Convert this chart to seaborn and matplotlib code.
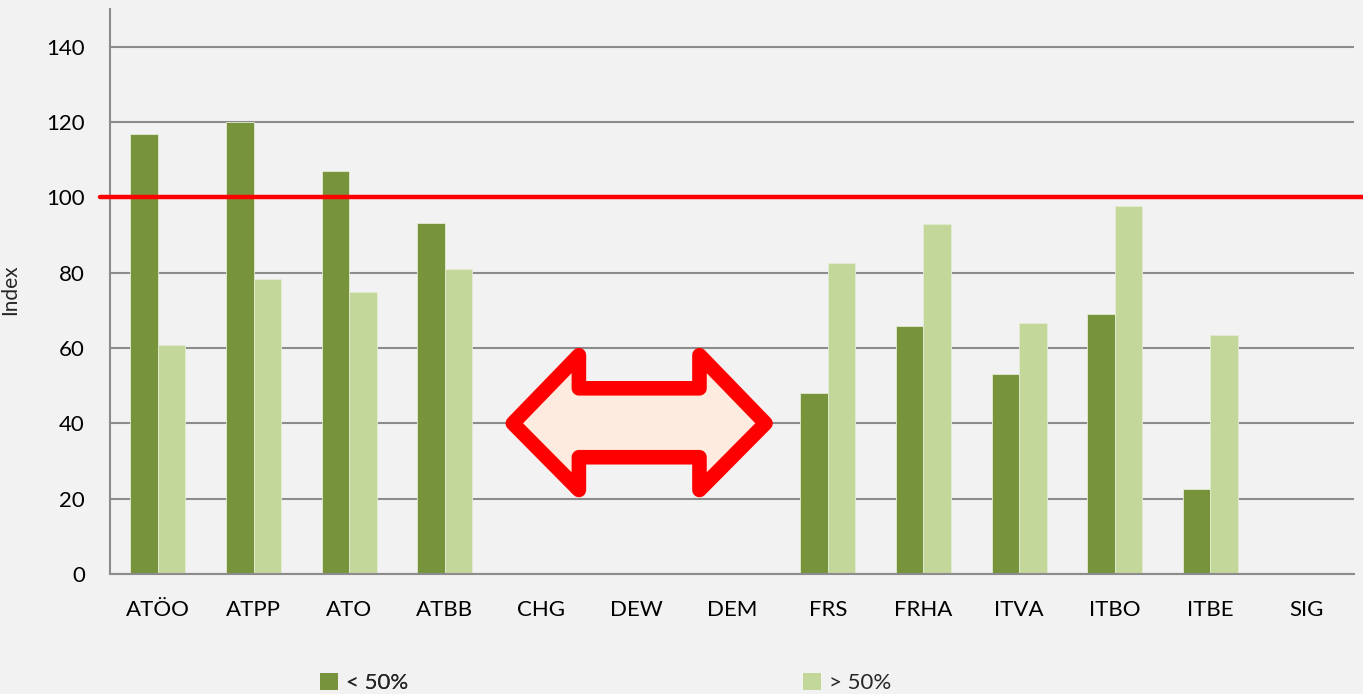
import numpy as np
import pandas as pd
import matplotlib
matplotlib.use("Agg")
import matplotlib.pyplot as plt
from matplotlib.patches import Polygon, Patch
import seaborn as sns

categories = ["ATÖO", "ATPP", "ATO", "ATBB", "CHG", "DEW", "DEM",
              "FRS", "FRHA", "ITVA", "ITBO", "ITBE", "SIG"]
below_50 = [116.9, 120.0, 107.1, 93.3, np.nan, np.nan, np.nan,
            48.0, 65.8, 53.0, 68.9, 22.5, np.nan]
above_50 = [60.7, 78.2, 74.8, 81.1, np.nan, np.nan, np.nan,
            82.5, 92.8, 66.6, 97.6, 63.4, np.nan]
series_names = ["< 50%", "> 50%"]
reference_value = 100
y_ticks = [0, 20, 40, 60, 80, 100, 120, 140]

# arrow annotation (category units, index units)
arrow_x = [3.71, 4.40, 4.40, 5.66, 5.66, 6.35, 5.66, 5.66, 4.40, 4.40]
arrow_y = [40, 58.1, 49.3, 49.3, 58.1, 40, 22.3, 31.0, 31.0, 22.3]

dark = "#77933C"
light = "#C4D79B"
bg = "#F2F2F2"
grid_c = "#8C8C8C"

df = pd.DataFrame({
    "cat": categories * 2,
    "series": [series_names[0]] * len(categories) + [series_names[1]] * len(categories),
    "value": below_50 + above_50,
}).dropna()

sns.set_theme(style="white")
plt.rcParams["font.family"] = ["Lato", "DejaVu Sans"]

fig = plt.figure(figsize=(13.63, 6.94), dpi=100, facecolor=bg)
ax = fig.add_axes([110 / 1363, 1 - 574 / 694, (1354 - 110) / 1363, (574 - 9) / 694])
ax.set_facecolor(bg)

sns.barplot(data=df, x="cat", y="value", hue="series", order=categories,
            hue_order=series_names, palette=[dark, light], width=0.575,
            gap=0, ax=ax, legend=False, edgecolor="#E3EBD3", linewidth=0.6,
            saturation=1)

ax.set_xlim(-0.5, len(categories) - 0.5)
ax.set_ylim(0, 150)
ax.set_yticks(y_ticks)
ax.yaxis.grid(True, color=grid_c, linewidth=1.5)
ax.set_axisbelow(True)
for s in ["top", "right"]:
    ax.spines[s].set_visible(False)
for s in ["left", "bottom"]:
    ax.spines[s].set_color(grid_c)
    ax.spines[s].set_linewidth(1.5)
ax.tick_params(axis="both", length=0, labelsize=16, colors="black")
ax.tick_params(axis="y", pad=18)
ax.tick_params(axis="x", pad=19)
ax.set_xlabel("")
ax.set_ylabel("Index", fontsize=15)
ax.yaxis.set_label_coords(-(110 - 20) / 1244, (574 - 290) / 565)

# reference line at 100
trans = matplotlib.transforms.blended_transform_factory(ax.transAxes, ax.transData)
ax.plot([-0.008, 1.01], [reference_value, reference_value], color="#FF0000",
        linewidth=3.2, transform=trans, clip_on=False, zorder=5)

# double arrow
poly = Polygon(list(zip(arrow_x, arrow_y)), closed=True, facecolor="#FCEBDE",
               edgecolor="#FF0000", linewidth=10.5, joinstyle="round", zorder=6)
ax.add_patch(poly)

# legends
h1 = [Patch(facecolor=dark, edgecolor="none", label=series_names[0])]
h2 = [Patch(facecolor=light, edgecolor="none", label=series_names[1])]
lg1 = fig.legend(handles=h1, loc="center left", bbox_to_anchor=(300 / 1363, 1 - 683 / 694),
                 frameon=False, fontsize=16, handlelength=0.8, handleheight=0.8,
                 handletextpad=0.35)
fig.add_artist(lg1)
fig.legend(handles=h2, loc="center left", bbox_to_anchor=(783 / 1363, 1 - 683 / 694),
           frameon=False, fontsize=16, handlelength=0.8, handleheight=0.8,
           handletextpad=0.35)

fig.savefig("out.png", dpi=100, facecolor=bg)
